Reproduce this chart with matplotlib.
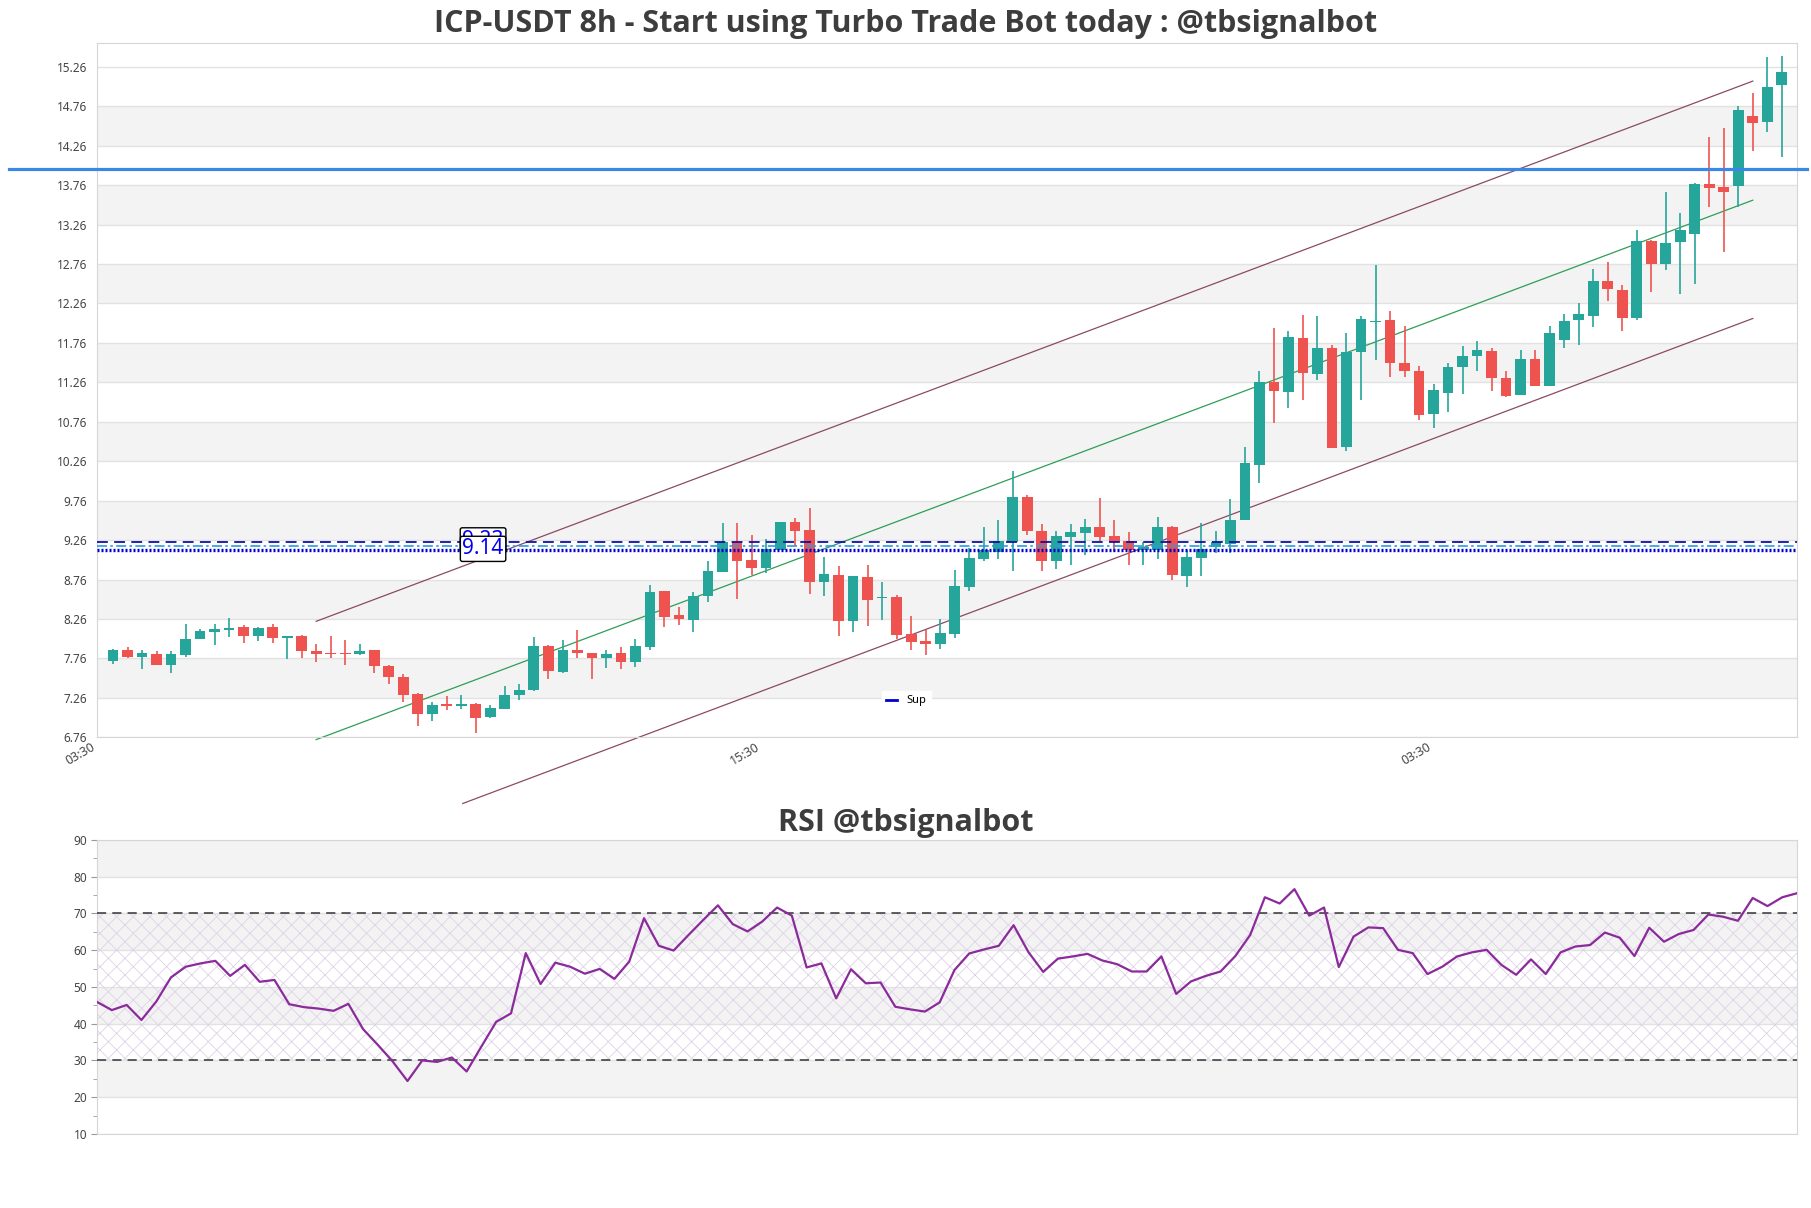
import matplotlib
matplotlib.use('Agg')
import matplotlib.pyplot as plt
from matplotlib import font_manager
import numpy as np
import os

plt.rcParams['font.family'] = ['Noto Sans', 'DejaVu Sans']
plt.rcParams['hatch.linewidth'] = 0.6

# ---------------- data ----------------
title = "ICP-USDT 8h - Start using Turbo Trade Bot today : @tbsignalbot"
rsi_title = "RSI @tbsignalbot"

opens = [7.73, 7.87, 7.78, 7.81, 7.68, 7.80, 8.01, 8.10, 8.12, 8.16,
         8.05, 8.16, 8.02, 8.04, 7.85, 7.83, 7.83, 7.81, 7.86, 7.66,
         7.52, 7.31, 7.05, 7.18, 7.16, 7.18, 7.02, 7.12, 7.30, 7.36,
         7.92, 7.59, 7.87, 7.83, 7.76, 7.83, 7.72, 7.91, 8.62, 8.31,
         8.25, 8.55, 8.86, 9.23, 9.01, 8.91, 9.13, 9.49, 9.39, 8.73,
         8.82, 8.24, 8.79, 8.52, 8.54, 8.07, 7.98, 7.94, 8.07, 8.67,
         9.02, 9.11, 9.23, 9.80, 9.37, 8.99, 9.30, 9.35, 9.42, 9.31,
         9.25, 9.13, 9.13, 9.42, 8.81, 9.03, 9.17, 9.21, 9.51, 10.21,
         11.27, 11.14, 11.82, 11.37, 11.69, 10.44, 11.64, 12.02, 12.05, 11.50,
         11.41, 10.86, 11.13, 11.45, 11.60, 11.66, 11.31, 11.10, 11.56, 11.21,
         11.80, 12.05, 12.10, 12.54, 12.43, 12.07, 13.05, 12.76, 13.04, 13.14,
         13.78, 13.74, 13.75, 14.64, 14.56, 15.03]
highs = [7.88, 7.91, 7.87, 7.85, 7.85, 8.20, 8.13, 8.20, 8.27, 8.18,
         8.16, 8.19, 8.04, 8.06, 7.94, 8.04, 7.99, 7.94, 7.87, 7.68,
         7.56, 7.32, 7.21, 7.28, 7.29, 7.20, 7.17, 7.41, 7.44, 8.03,
         7.93, 7.99, 8.12, 7.83, 7.87, 7.91, 8.00, 8.69, 8.62, 8.41,
         8.60, 9.00, 9.48, 9.48, 9.32, 9.27, 9.49, 9.54, 9.67, 9.04,
         8.93, 8.81, 8.94, 8.73, 8.57, 8.30, 8.12, 8.26, 8.88, 9.16,
         9.43, 9.51, 10.14, 9.83, 9.46, 9.38, 9.47, 9.53, 9.79, 9.52,
         9.36, 9.23, 9.55, 9.44, 9.13, 9.48, 9.37, 9.78, 10.44, 11.40,
         11.95, 11.91, 12.12, 12.10, 11.74, 11.89, 12.10, 12.75, 12.17, 11.98,
         11.47, 11.24, 11.51, 11.72, 11.78, 11.69, 11.41, 11.67, 11.67, 11.97,
         12.13, 12.26, 12.70, 12.78, 12.50, 13.19, 13.07, 13.68, 13.41, 13.79,
         14.37, 14.49, 14.77, 14.93, 15.39, 15.40]
lows = [7.69, 7.77, 7.63, 7.67, 7.58, 7.78, 8.00, 7.93, 8.03, 7.96,
        7.98, 7.95, 7.75, 7.77, 7.71, 7.76, 7.68, 7.80, 7.58, 7.44,
        7.21, 6.90, 6.97, 7.11, 7.12, 6.81, 7.01, 7.12, 7.23, 7.35,
        7.50, 7.58, 7.77, 7.50, 7.64, 7.63, 7.65, 7.87, 8.16, 8.18,
        8.10, 8.47, 8.85, 8.51, 8.82, 8.84, 9.13, 9.18, 8.58, 8.55,
        8.04, 8.09, 8.17, 8.25, 8.01, 7.86, 7.80, 7.88, 8.02, 8.61,
        9.00, 9.02, 8.87, 9.33, 8.87, 8.89, 8.94, 9.07, 9.24, 9.11,
        8.94, 8.94, 9.02, 8.76, 8.66, 8.80, 9.09, 9.09, 9.51, 9.98,
        10.74, 10.93, 11.03, 11.29, 10.43, 10.39, 11.03, 11.54, 11.33, 11.33,
        10.78, 10.68, 10.88, 11.11, 11.41, 11.15, 11.07, 11.10, 11.21, 11.21,
        11.69, 11.74, 11.96, 12.29, 11.91, 12.05, 12.40, 12.69, 12.38, 12.51,
        13.48, 12.91, 13.48, 14.19, 14.44, 14.12]
closes = [7.87, 7.78, 7.83, 7.68, 7.81, 8.01, 8.11, 8.13, 8.15, 8.05,
          8.14, 8.02, 8.04, 7.85, 7.82, 7.82, 7.81, 7.85, 7.66, 7.52,
          7.30, 7.06, 7.17, 7.16, 7.18, 7.00, 7.13, 7.30, 7.36, 7.92,
          7.60, 7.87, 7.83, 7.76, 7.81, 7.72, 7.92, 8.60, 8.29, 8.26,
          8.55, 8.87, 9.23, 9.00, 8.91, 9.15, 9.49, 9.38, 8.73, 8.83,
          8.24, 8.80, 8.50, 8.54, 8.06, 7.97, 7.94, 8.08, 8.68, 9.03,
          9.13, 9.25, 9.80, 9.38, 8.99, 9.31, 9.36, 9.42, 9.30, 9.23,
          9.14, 9.17, 9.42, 8.82, 9.04, 9.15, 9.23, 9.52, 10.24, 11.26,
          11.15, 11.83, 11.38, 11.69, 10.43, 11.64, 12.06, 12.03, 11.50, 11.40,
          10.84, 11.16, 11.46, 11.59, 11.67, 11.31, 11.09, 11.55, 11.21, 11.89,
          12.04, 12.13, 12.54, 12.44, 12.07, 13.05, 12.76, 13.03, 13.19, 13.78,
          13.73, 13.68, 14.71, 14.55, 15.01, 15.20]

rsi = [45.9, 43.7, 45.1, 41.0, 46.0, 52.6, 55.5, 56.4, 57.1, 53.0,
       56.0, 51.4, 51.9, 45.3, 44.5, 44.1, 43.5, 45.4, 38.5, 34.2,
       29.7, 24.4, 30.0, 29.6, 30.8, 27.0, 33.8, 40.5, 42.8, 59.2,
       50.8, 56.6, 55.5, 53.6, 54.9, 52.2, 56.9, 68.7, 61.2, 59.9,
       64.1, 68.2, 72.2, 67.1, 65.1, 67.8, 71.6, 69.4, 55.3, 56.4,
       46.9, 54.8, 51.0, 51.2, 44.6, 43.9, 43.3, 45.8, 54.6, 59.1,
       60.2, 61.2, 66.8, 59.5, 54.1, 57.7, 58.3, 59.0, 57.2, 56.2,
       54.2, 54.2, 58.3, 48.1, 51.5, 53.0, 54.2, 58.4, 64.1, 74.4,
       72.7, 76.6, 69.4, 71.6, 55.4, 63.7, 66.2, 66.0, 60.1, 59.2,
       53.5, 55.5, 58.3, 59.4, 60.1, 56.0, 53.3, 57.5, 53.5, 59.4,
       61.0, 61.4, 64.8, 63.4, 58.4, 66.1, 62.3, 64.4, 65.5, 69.7,
       69.1, 68.0, 74.2, 72.0, 74.4, 75.5]

# horizontal levels
resistance = 13.97
level_dashed = 9.23
level_dashdot = 9.18
support = 9.14

# trend channel (x in candle index, y in price)
chan_x = [14.0, 113.0]
chan_upper = [8.23, 15.08]
chan_mid = [6.73, 13.57]
chan_lower_x = [24.1, 113.0]
chan_lower = [5.92, 12.07]

price_ticks = [6.76, 7.26, 7.76, 8.26, 8.76, 9.26, 9.76, 10.26, 10.76,
               11.26, 11.76, 12.26, 12.76, 13.26, 13.76, 14.26, 14.76, 15.26]
time_tick_pos = [-1.1, 44.7, 91.0]
time_tick_labels = ['03:30', '15:30', '03:30']
rsi_ticks = [10, 20, 30, 40, 50, 60, 70, 80, 90]


# ---------------- font for bold titles (static bold file needed) ----------------
def pick_bold_family():
    for fam in ['Noto Sans', 'Open Sans', 'Roboto', 'Lato', 'Liberation Sans', 'DejaVu Sans']:
        try:
            path = font_manager.findfont(
                font_manager.FontProperties(family=fam, weight='bold'),
                fallback_to_default=False)
        except Exception:
            continue
        name = os.path.basename(path).lower()
        if 'bold' in name and '[' not in name:
            return fam
    return 'DejaVu Sans'


BOLD_FAM = pick_bold_family()

# ---------------- style ----------------
UP = '#26a69a'
DOWN = '#ef5350'
GRID = '#e2e2e2'
BAND = '#f3f3f3'
SPINE = '#d6d6d6'
TXT = '#444444'

fig = plt.figure(figsize=(18.11, 12.08), dpi=100)
ax = fig.add_axes([0.0536, 0.3897, 0.9387, 0.5745])
ax2 = fig.add_axes([0.0536, 0.0613, 0.9387, 0.2434])

n = len(opens)
x = np.arange(n)
o = np.array(opens); c = np.array(closes)
h = np.array(highs); l = np.array(lows)
cols = [UP if cc >= oo else DOWN for oo, cc in zip(o, c)]

# main panel background bands and grid
for i in range(1, len(price_ticks) - 1, 2):
    ax.axhspan(price_ticks[i], price_ticks[i + 1], color=BAND, lw=0, zorder=0)
for t in price_ticks:
    ax.axhline(t, color=GRID, lw=1, zorder=0.5)

# candles
ax.vlines(x, l, h, colors=cols, lw=1.2, zorder=3)
body_bottom = np.minimum(o, c)
body_h = np.maximum(np.abs(c - o), 0.012)
ax.bar(x, body_h, bottom=body_bottom, width=0.74, color=cols, lw=0, zorder=4)

# channel
chan_col = '#8c4a62'
ax.plot(chan_x, chan_upper, color=chan_col, lw=0.9, zorder=2, clip_on=False)
ax.plot(chan_x, chan_mid, color='#2e9e57', lw=0.9, zorder=2, clip_on=False)
ax.plot(chan_lower_x, chan_lower, color=chan_col, lw=0.9, zorder=2, clip_on=False)

# levels
ax.axhline(resistance, xmin=-0.052, xmax=1.006, clip_on=False,
           color='#3a87e6', lw=2.3, zorder=5)
ax.axhline(level_dashed, color='#1010a8', lw=1.3, ls=(0, (6, 3.5)), zorder=5)
ax.axhline(level_dashdot, color='#2b9be6', lw=1.2, ls=(0, (6, 2, 1.5, 2)), zorder=5)
sup_line = ax.axhline(support, color='#0000d0', lw=2.4, ls=(0, (0.6, 0.6)),
                      zorder=5, label='Sup')

lab_x = 25.5
for val, z, dy in [(level_dashed, 6, 1.5), (support, 7, 0.5)]:
    ax.annotate(f"{val:.2f}", xy=(lab_x, val), xytext=(0, dy),
                textcoords='offset points', ha='center', va='center',
                fontsize=15, color='#0000ee', zorder=z,
                bbox=dict(boxstyle='round,pad=0.1', fc='white', ec='black', lw=1))

leg = ax.legend(handles=[sup_line], loc='lower center', bbox_to_anchor=(0.476, 0.03),
                fontsize=8, frameon=True, framealpha=1, edgecolor='white',
                handlelength=1.0, fancybox=False)
leg.get_lines()[0].set_linestyle('-')
leg.get_lines()[0].set_linewidth(2)

ax.set_xlim(-1.03, 116.05)
ax.set_ylim(6.76, 15.56)
ax.set_yticks(price_ticks)
ax.set_yticklabels([f"{t:.2f}" for t in price_ticks])
ax.set_xticks(time_tick_pos)
ax.set_xticklabels(time_tick_labels, rotation=30, ha='right')
ax.tick_params(axis='both', length=0, colors=TXT)
ax.tick_params(axis='y', pad=7, labelsize=8.5)
ax.tick_params(axis='x', pad=2, labelsize=9)
for s in ax.spines.values():
    s.set_color(SPINE)

# ---------------- RSI panel ----------------
for lo, hi in [(20, 30), (40, 50), (60, 70), (80, 90)]:
    ax2.axhspan(lo, hi, color=BAND, lw=0, zorder=0)
for t in rsi_ticks:
    ax2.axhline(t, color=GRID, lw=1, zorder=0.5)
ax2.axhspan(30, 70, facecolor='none', edgecolor='#ddd2e6', hatch='xx', lw=0, zorder=1)
ax2.axhline(70, color='#333333', lw=1.1, ls=(0, (6, 4)), zorder=3)
ax2.axhline(30, color='#333333', lw=1.1, ls=(0, (6, 4)), zorder=3)
ax2.plot(np.arange(len(rsi)), rsi, color='#8b2a9b', lw=1.6, zorder=4)

ax2.set_xlim(0, len(rsi) - 1)
ax2.set_ylim(10, 90)
ax2.set_yticks(rsi_ticks)
ax2.set_yticks([15, 25, 35, 45, 55, 65, 75, 85], minor=True)
ax2.set_xticks([])
ax2.tick_params(axis='y', which='major', length=4, color='#999999', labelsize=8.5,
                labelcolor=TXT, pad=3)
ax2.tick_params(axis='y', which='minor', length=3, color='#999999')
for s in ax2.spines.values():
    s.set_color(SPINE)

fig.text(0.5, 1 - 24 / 1208, title, ha='center', va='center', fontsize=22,
         fontweight='bold', color='#3d3d3d', family=[BOLD_FAM, 'DejaVu Sans'])
fig.text(0.5, 1 - 823 / 1208, rsi_title, ha='center', va='center', fontsize=22,
         fontweight='bold', color='#3d3d3d', family=[BOLD_FAM, 'DejaVu Sans'])

fig.savefig('out.png', dpi=100)
